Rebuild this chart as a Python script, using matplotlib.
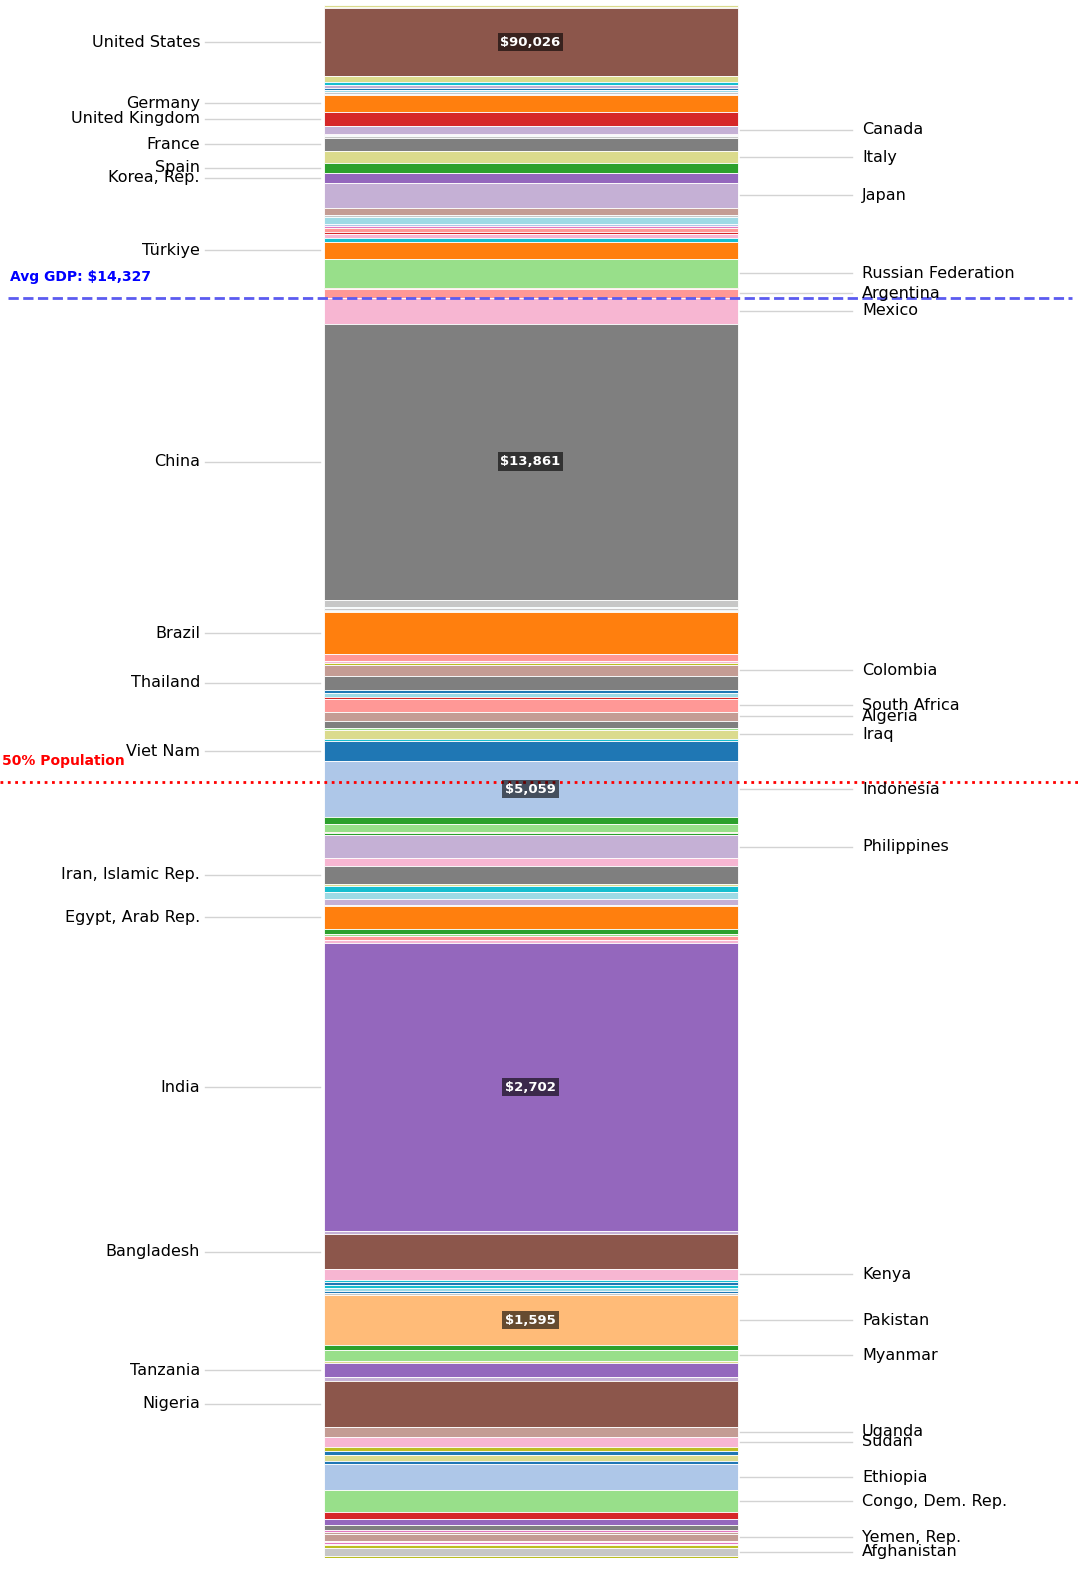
import numpy as np
import matplotlib
matplotlib.use("Agg")
import matplotlib.pyplot as plt

# countries ordered by GDP per capita (rich -> poor), population in millions
countries = [
    "Switzerland", "Norway", "United States", "Australia", "Netherlands", "Sweden", "Belgium",
    "Austria", "Israel", "Denmark", "Germany", "United Kingdom", "Canada", "New Zealand",
    "Finland", "United Arab Emirates", "France", "Italy", "Spain", "Korea, Rep.", "Japan",
    "Saudi Arabia", "Czechia", "Poland", "Portugal", "Greece", "Chile", "Hungary", "Romania",
    "Kazakhstan", "Türkiye", "Russian Federation", "Uruguay", "Argentina", "Mexico", "China",
    "Malaysia", "Costa Rica", "Dominican Republic", "Serbia", "Bulgaria", "Brazil", "Peru",
    "Cuba", "Belarus", "Colombia", "Thailand", "Ecuador", "Guatemala", "Azerbaijan",
    "South Africa", "Algeria", "Ukraine", "Libya", "Iraq", "Jordan", "Viet Nam", "Indonesia",
    "Morocco", "Uzbekistan", "El Salvador", "Bolivia", "Philippines", "Angola",
    "Iran, Islamic Rep.", "Honduras", "Ghana", "Cote d'Ivoire", "Nepal", "Laos",
    "Egypt, Arab Rep.", "Cameroon", "Kyrgyz Republic", "Zambia", "Senegal", "India",
    "Zimbabwe", "Bangladesh", "Kenya", "Haiti", "Benin", "Cambodia", "Guinea",
    "Papua New Guinea", "Tajikistan", "Pakistan", "Mali", "Myanmar", "Rwanda", "Tanzania",
    "Chad", "Nigeria", "Uganda", "Sudan", "Burkina Faso", "Malawi", "Niger", "Somalia",
    "Ethiopia", "Congo, Dem. Rep.", "Madagascar", "Mozambique", "Syria", "Sierra Leone",
    "Togo", "Yemen, Rep.", "Central African Rep.", "South Sudan", "Liberia", "Eritrea",
    "Afghanistan", "Burundi",
]
population = [
    9, 5.5, 343, 27, 18, 10.5, 12, 9, 10, 6, 84, 69, 40, 5, 5.6, 10, 68, 59, 48, 52, 124,
    34, 11, 37, 10, 10, 20, 9.6, 19, 20, 86, 144, 3.4, 46, 130, 1380,
    35, 5, 11, 6.6, 6.4, 211, 34, 11, 9, 52, 71, 18, 18, 10,
    63, 46, 38, 7, 45, 11, 100, 280,
    37, 36, 6, 12, 115, 37,
    90, 10, 34, 31, 30, 7,
    114, 28, 7, 20, 18, 1440,
    16, 172, 55, 12, 14, 17, 14, 10, 10, 250, 24, 54, 14, 68,
    19, 230, 49, 50, 23, 21, 27, 18,
    130, 110, 31, 34, 24, 9, 9, 36, 5, 11, 5.5, 12, 40, 12,
]
# GDP per capita (USD); labelled values, others estimated
gdp_per_capita = list(np.linspace(99000, 91000, 2)) + [90026] + list(np.linspace(65000, 15000, 31)) + \
    [14000, 13861] + list(np.linspace(13500, 5300, 21)) + [5059] + \
    list(np.linspace(4900, 2800, 17)) + [2702] + list(np.linspace(2600, 1650, 9)) + [1595] + \
    list(np.linspace(1500, 400, 26))
color_idx = [
    17, 16, 10, 17, 18, 9, 0, 19, 15, 1, 2, 6, 9, 12, 19, 15, 14, 17, 4, 8, 9,
    11, 15, 19, 1, 12, 7, 6, 13, 18, 2, 5, 6, 7, 13, 14,
    15, 19, 15, 0, 17, 2, 7, 13, 16, 11, 14, 0, 19, 6,
    7, 11, 14, 5, 17, 18, 0, 1,
    4, 5, 2, 4, 9, 13,
    14, 17, 18, 19, 9, 15,
    2, 4, 5, 7, 13, 8,
    9, 10, 13, 18, 0, 18, 19, 0, 15, 3, 4, 5, 17, 8,
    9, 10, 11, 13, 16, 0, 17, 0,
    1, 5, 6, 8, 14, 12, 11, 11, 13, 12, 13, 16, 15, 16,
]
left_labels = ["United States", "Germany", "United Kingdom", "France", "Spain", "Korea, Rep.",
               "Türkiye", "China", "Brazil", "Thailand", "Viet Nam", "Iran, Islamic Rep.",
               "Egypt, Arab Rep.", "India", "Bangladesh", "Tanzania", "Nigeria"]
right_labels = ["Canada", "Italy", "Japan", "Russian Federation", "Argentina", "Mexico",
                "Colombia", "South Africa", "Algeria", "Iraq", "Indonesia", "Philippines",
                "Kenya", "Pakistan", "Myanmar", "Uganda", "Sudan", "Ethiopia",
                "Congo, Dem. Rep.", "Yemen, Rep.", "Afghanistan"]
value_labels = ["United States", "China", "Indonesia", "India", "Pakistan"]
avg_gdp = 14327

pal = plt.get_cmap("tab20").colors
pop = np.array(population, dtype=float)
bottoms = np.concatenate([[0], np.cumsum(pop)[:-1]])
total = pop.sum()

fig = plt.figure(figsize=(10.8, 15.8), dpi=100)
ax = fig.add_axes([0, 22 / 1580, 1, 1553 / 1580])
ax.set_xlim(0, 1080)
ax.set_ylim(total, 0)
ax.axis("off")

ax.bar(530.5, pop, bottom=bottoms, width=414, color=[pal[c] for c in color_idx],
       edgecolor="white", linewidth=0.6)

for name, b, p, g in zip(countries, bottoms, pop, gdp_per_capita):
    mid = b + p / 2
    if name in left_labels:
        ax.plot([205, 320], [mid, mid], color="lightgray", lw=1)
        ax.text(200, mid, name, ha="right", va="center", fontsize=11.5)
    elif name in right_labels:
        ax.plot([740, 852], [mid, mid], color="lightgray", lw=1)
        ax.text(862, mid, name, ha="left", va="center", fontsize=11.5)
    if name in value_labels:
        ax.text(530.5, mid, f"${g:,.0f}", ha="center", va="center", fontsize=9.5,
                color="white", fontweight="bold",
                bbox=dict(boxstyle="square,pad=0.2", fc="black", ec="none", alpha=0.6))

# average GDP line: top of first country below the average
avg_y = next(b for b, g in zip(bottoms, gdp_per_capita) if g < avg_gdp)
ax.axhline(avg_y, color="#5b5bf0", ls="--", lw=2, xmin=8 / 1080, xmax=1072 / 1080)
ax.annotate(f"Avg GDP: ${avg_gdp:,}", (10, avg_y), xytext=(0, 10), textcoords="offset points",
            color="blue", fontweight="bold", fontsize=10, va="bottom")

half_y = total / 2
ax.axhline(half_y, color="red", ls=":", lw=2)
ax.annotate("50% Population", (2, half_y), xytext=(0, 10), textcoords="offset points",
            color="red", fontweight="bold", fontsize=10, va="bottom")

plt.savefig("out.png", dpi=100)
